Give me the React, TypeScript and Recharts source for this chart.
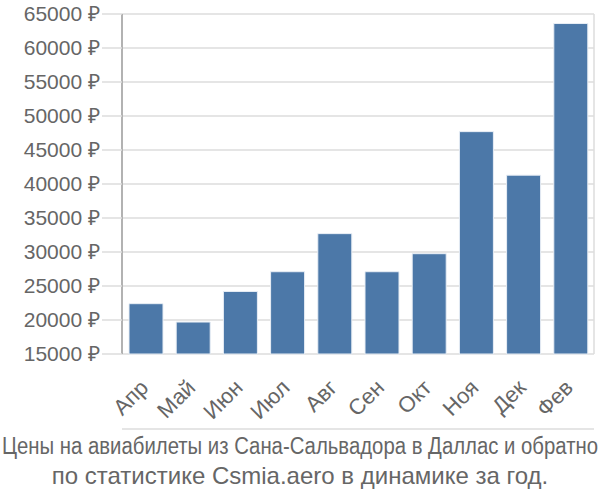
import { BarChart, Bar, XAxis, YAxis, CartesianGrid } from "recharts";

const months = ["Апр", "Май", "Июн", "Июл", "Авг", "Сен", "Окт", "Ноя", "Дек", "Фев"];
const prices = [22400, 19700, 24200, 27100, 32700, 27100, 29750, 47700, 41300, 63600];
const yTicks = [15000, 20000, 25000, 30000, 35000, 40000, 45000, 50000, 55000, 60000, 65000];
const gridTicks = [0, 1, 2, 3, 4, 5, 6, 7, 8, 9, 10];
const titleLines = [
  "Цены на авиабилеты из Сана-Сальвадора в Даллас и обратно",
  "по статистике Csmia.aero в динамике за год.",
];

const FONT = "'Liberation Sans', Arial, sans-serif";
const TEXT = "#666";
const GRID = "#dddddd";

const data = months.map((m, i) => ({ month: m, price: prices[i] }));

function MonthTick({ x, y, payload }: any) {
  const ax = x + 4;
  const ay = y + 27;
  return (
    <text
      x={ax}
      y={ay}
      transform={`rotate(-45 ${ax} ${ay})`}
      textAnchor="end"
      fill={TEXT}
      fontSize={22}
      fontFamily={FONT}
    >
      {payload.value}
    </text>
  );
}

export default function App() {
  return (
    <div style={{ position: "absolute", left: 0, top: 0, width: 600, height: 500, background: "#fff" }}>
      <BarChart
        width={600}
        height={430}
        data={data}
        margin={{ top: 14, right: 6, left: 0, bottom: 0 }}
        barSize={34}
      >
        <CartesianGrid stroke={GRID} strokeWidth={1.5} xAxisId="grid" />
        <XAxis
          xAxisId="grid"
          type="number"
          domain={[0, 10]}
          ticks={gridTicks}
          height={1}
          tickSize={21}
          tick={false}
          tickLine={{ stroke: GRID, strokeWidth: 1.5 }}
          axisLine={{ stroke: GRID, strokeWidth: 1.5 }}
        />
        <XAxis
          dataKey="month"
          height={75}
          interval={0}
          tickLine={false}
          axisLine={false}
          tick={<MonthTick />}
        />
        <YAxis
          width={122}
          domain={[15000, 65000]}
          ticks={yTicks}
          interval={0}
          tickSize={20}
          tickMargin={2}
          tickFormatter={(v) => `${v} ₽`}
          tick={{ fill: TEXT, fontSize: 21, fontFamily: FONT }}
          tickLine={{ stroke: GRID, strokeWidth: 1.5 }}
          axisLine={{ stroke: "#a0a0a0", strokeWidth: 1.5 }}
        />
        <Bar dataKey="price" fill="#4c78a8" stroke="#e8eef5" strokeWidth={1} isAnimationActive={false} />
      </BarChart>
      <svg width={600} height={70} style={{ position: "absolute", left: 0, top: 430 }}>
        <text
          x={300}
          y={24}
          textAnchor="middle"
          textLength={596}
          lengthAdjust="spacingAndGlyphs"
          fill={TEXT}
          fontSize={23}
          fontFamily={FONT}
        >
          {titleLines[0]}
        </text>
        <text x={300} y={54} textAnchor="middle" fill={TEXT} fontSize={24} fontFamily={FONT}>
          {titleLines[1]}
        </text>
      </svg>
    </div>
  );
}
